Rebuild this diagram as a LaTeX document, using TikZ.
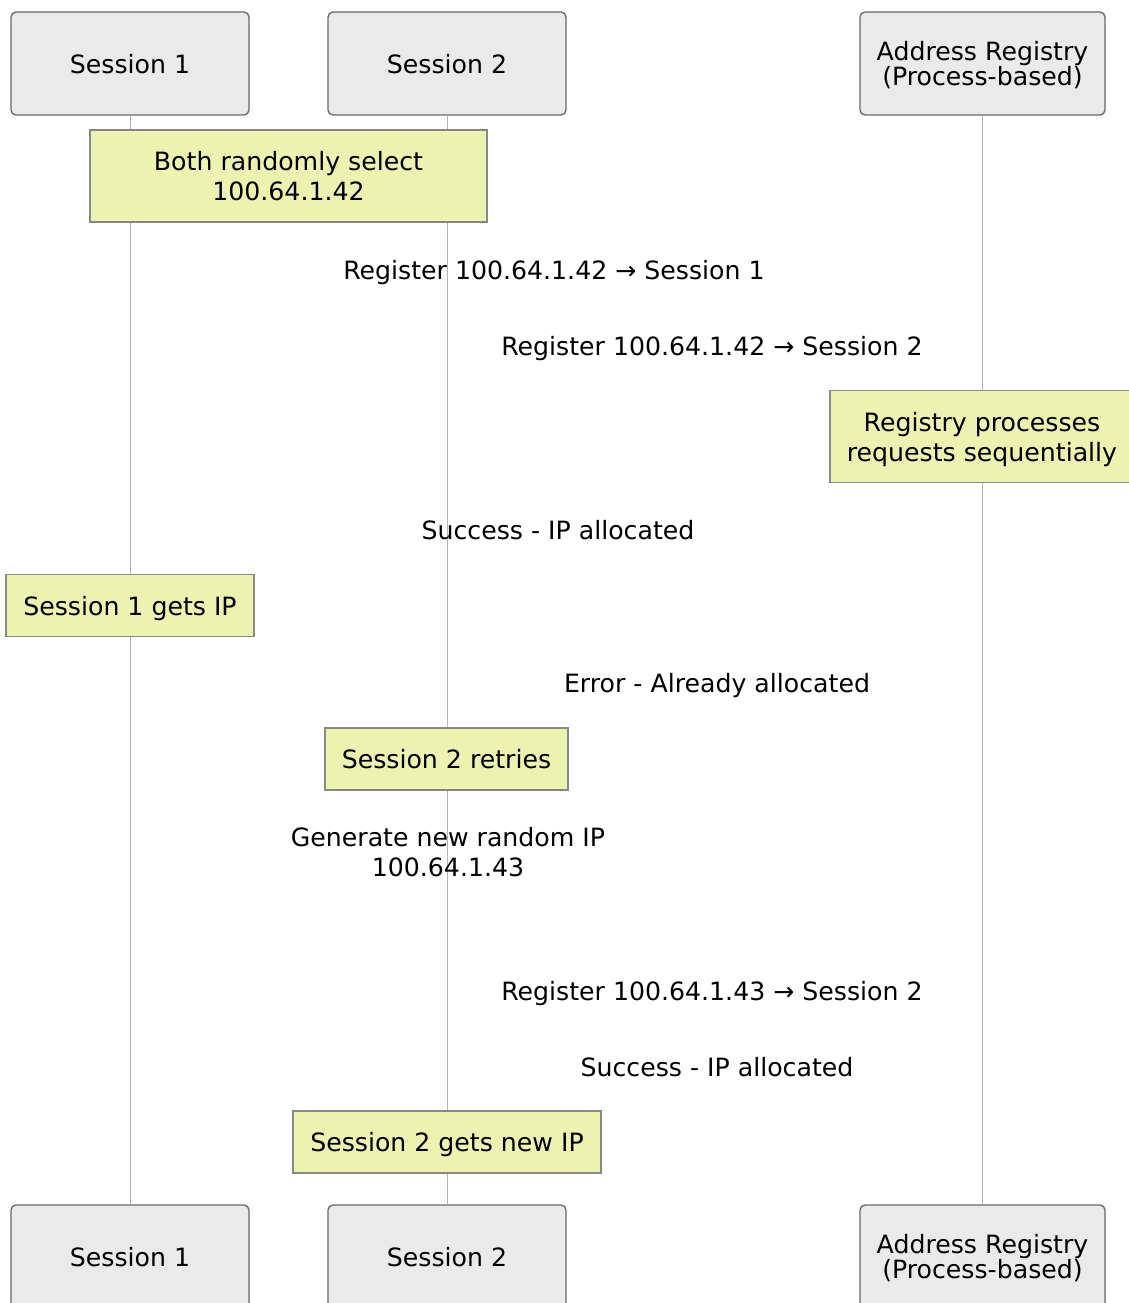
\documentclass[tikz,border=0pt]{standalone}
\usepackage{fontspec}
\setmainfont{DejaVu Sans}
\usepackage{tikz}
\usetikzlibrary{arrows.meta,positioning,calc}

\definecolor{actorfill}{HTML}{EAEAEA}
\definecolor{actorline}{HTML}{666666}
\definecolor{notefill}{HTML}{ECF3B1}
\definecolor{noteline}{HTML}{888888}
\definecolor{lifeline}{HTML}{B5B5B5}

\tikzset{
  actor/.style={draw=actorline,fill=actorfill,rounded corners=5pt,line width=1.3pt,
    minimum width=238pt,minimum height=103pt,align=center,inner sep=0pt,text depth=0pt},
  note/.style={draw=noteline,fill=notefill,line width=1.2pt,
    minimum height=62pt,align=center,inner sep=0pt,text depth=0pt},
  msg/.style={align=center,inner sep=0pt,text depth=0pt},
  life/.style={draw=lifeline,line width=1pt}
}

\begin{document}
\begin{tikzpicture}[x=1pt,y=-1pt,font=\fontsize{25.2}{30}\selectfont]
  \useasboundingbox (0,0) rectangle (1129,1303);
  % 参加者(上)
  \node[actor] (s1top) at (130,63.5) {Session 1};
  \node[actor] (s2top) at (447,63.5) {Session 2};
  \node[actor,minimum width=245pt,font=\fontsize{25.2}{25}\selectfont] (regtop) at (982.5,63.5) {Address Registry\\(Process-based)};
  % 参加者(下)
  \node[actor] (s1bot) at (130,1256.5) {Session 1};
  \node[actor] (s2bot) at (447,1256.5) {Session 2};
  \node[actor,minimum width=245pt,font=\fontsize{25.2}{25}\selectfont] (regbot) at (982.5,1256.5) {Address Registry\\(Process-based)};
  % ライフライン
  \draw[life] (s1top) -- (s1bot);
  \draw[life] (s2top) -- (s2bot);
  \draw[life] (regtop) -- (regbot);
  % ノート
  \node[note,minimum width=397pt,minimum height=92pt] (both) at (288.5,176) {Both randomly select\\100.64.1.42};
  \node[note,minimum width=304pt,minimum height=92pt] (seq) at (982,436.5) {Registry processes\\requests sequentially};
  \node[note,minimum width=248pt] (s1gets) at (130,605.5) {Session 1 gets IP};
  \node[note,minimum width=243pt] (retry) at (446.5,759) {Session 2 retries};
  \node[note,minimum width=308pt] (s2gets) at (447,1142) {Session 2 gets new IP};
  % メッセージ
  \node[msg] (reg1) at (554,270) {Register 100.64.1.42 → Session 1};
  \node[msg] (reg2) at (712,346) {Register 100.64.1.42 → Session 2};
  \node[msg] (ok1) at (558,530) {Success - IP allocated};
  \node[msg] (err) at (717,683) {Error - Already allocated};
  \node[msg] (gen) at (448,852) {Generate new random IP\\100.64.1.43};
  \node[msg] (reg3) at (712,991) {Register 100.64.1.43 → Session 2};
  \node[msg] (ok2) at (717,1067) {Success - IP allocated};
\end{tikzpicture}
\end{document}
